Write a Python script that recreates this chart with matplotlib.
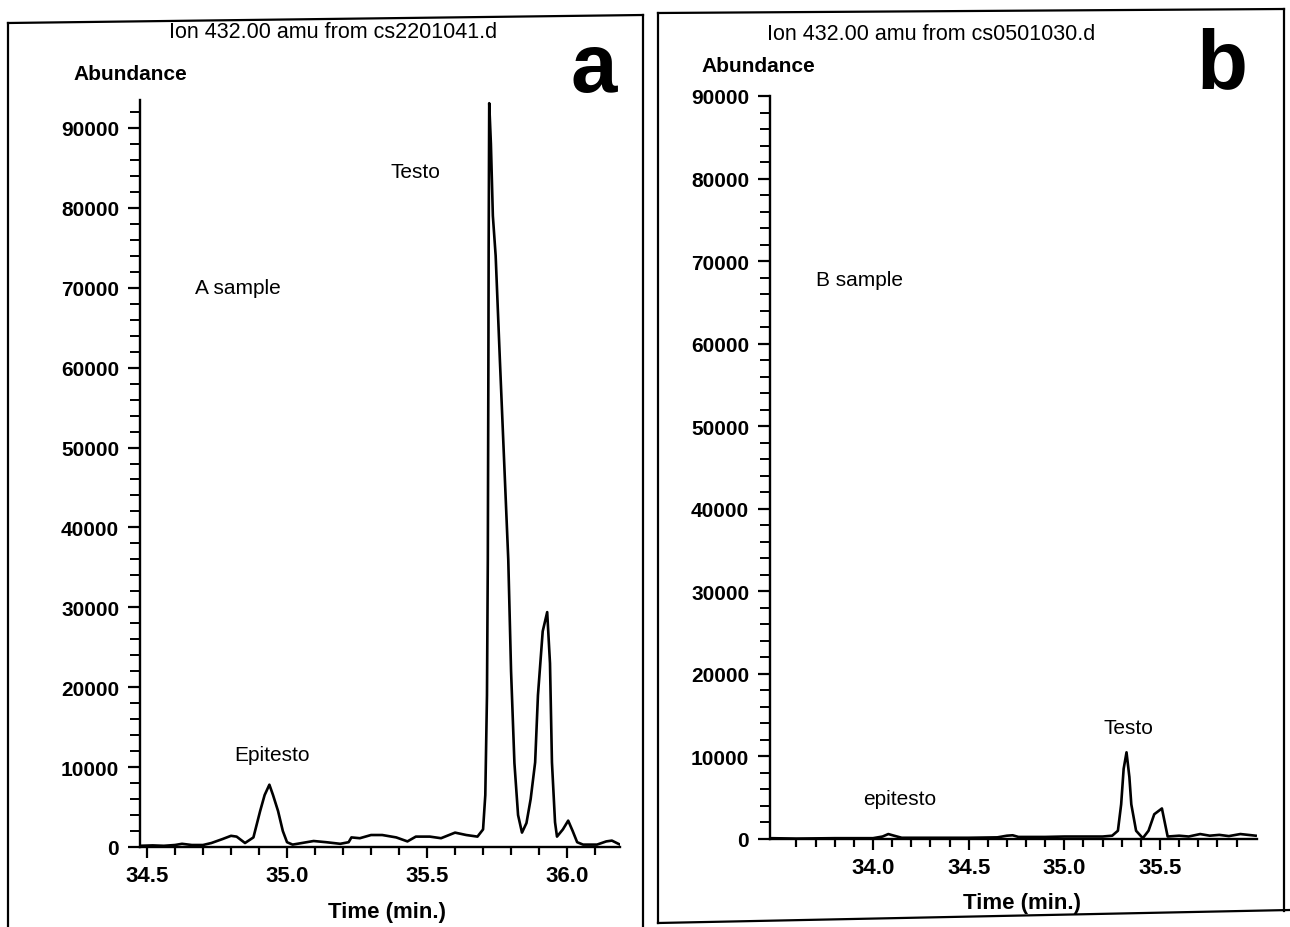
# GC-MS ion chromatograms (ion 432.00 amu), sample A and sample B

import matplotlib
matplotlib.use('Agg')
import matplotlib.pyplot as plt
from matplotlib.lines import Line2D

plt.rcParams['font.family'] = ['Liberation Sans', 'DejaVu Sans']

# panel a: time (min) and abundance
time_a = [34.475, 34.52, 34.56, 34.60, 34.625, 34.66, 34.70, 34.73, 34.77, 34.80,
          34.82, 34.85, 34.88, 34.904, 34.92, 34.937, 34.95, 34.968, 34.985, 35.00,
          35.02, 35.07, 35.095, 35.14, 35.19, 35.22, 35.23, 35.26, 35.30, 35.34,
          35.39, 35.43, 35.46, 35.51, 35.55, 35.60, 35.64, 35.68, 35.70, 35.708,
          35.714, 35.717, 35.719, 35.720, 35.722, 35.728, 35.735, 35.745, 35.760, 35.790,
          35.800, 35.812, 35.825, 35.839, 35.855, 35.870, 35.886, 35.896, 35.913, 35.929,
          35.939, 35.946, 35.957, 35.964, 35.985, 36.004, 36.02, 36.036, 36.057, 36.107,
          36.14, 36.16, 36.189]
abund_a = [150, 200, 150, 250, 400, 250, 250, 500, 1000, 1400,
           1300, 500, 1200, 4500, 6500, 7800, 6500, 4500, 2000, 600,
           300, 600, 750, 600, 400, 600, 1200, 1100, 1500, 1500,
           1200, 700, 1300, 1300, 1100, 1800, 1500, 1300, 2200, 6500,
           19000, 36000, 60000, 75000, 93100, 88000, 79000, 74000, 61000, 36000,
           22000, 10500, 4000, 1800, 3000, 6000, 10600, 19000, 27000, 29400,
           23000, 10600, 3100, 1300, 2200, 3300, 2000, 600, 300, 300,
           700, 800, 300]

# panel b
time_b = [33.46, 33.6, 33.8, 34.0, 34.05, 34.08, 34.11, 34.15, 34.3, 34.5,
          34.65, 34.70, 34.73, 34.76, 34.9, 35.0, 35.1, 35.2, 35.25, 35.28,
          35.297, 35.31, 35.325, 35.34, 35.35, 35.375, 35.41, 35.44, 35.47, 35.51,
          35.525, 35.54, 35.6, 35.65, 35.71, 35.76, 35.81, 35.86, 35.92, 35.96,
          36.0]
abund_b = [100, 50, 100, 100, 300, 600, 400, 150, 150, 150,
           200, 400, 450, 250, 250, 300, 300, 300, 400, 1000,
           4200, 8500, 10500, 7500, 4200, 1000, 100, 1000, 3000, 3700,
           2000, 300, 400, 300, 600, 400, 500, 350, 600, 500,
           400]

yticks_a = list(range(0, 90001, 10000))
yticks_b = list(range(0, 90001, 10000))
xticks_a = [34.5, 35.0, 35.5, 36.0]
xticks_b = [34.0, 34.5, 35.0, 35.5]
xminor_a = [round(34.5 + 0.1 * i, 1) for i in range(17)]
xminor_b = [round(33.6 + 0.1 * i, 1) for i in range(24)]

W, H = 1290, 928
fig = plt.figure(figsize=(W / 100, H / 100), dpi=100)


def px_box(left, right, y0, ytop):
    # pixel box -> figure fraction rect
    return [left / W, (H - y0) / H, (right - left) / W, (y0 - ytop) / H]


def style_axis(ax):
    for s in ['top', 'right']:
        ax.spines[s].set_visible(False)
    for s in ['left', 'bottom']:
        ax.spines[s].set_linewidth(1.7)
    ax.tick_params(axis='x', which='major', direction='out', length=8, width=1.6,
                   pad=5, labelsize=16)
    ax.tick_params(axis='x', which='minor', direction='out', length=6, width=1.6)
    ax.tick_params(axis='y', which='major', direction='out', length=9, width=1.6,
                   pad=6, labelsize=15)
    ax.tick_params(axis='y', which='minor', direction='out', length=7, width=1.4)
    for lab in ax.get_xticklabels() + ax.get_yticklabels():
        lab.set_fontweight('bold')


# ---- panel a ----
ax_a = fig.add_axes(px_box(140, 620, 848, 101))
ax_a.plot(time_a, abund_a, color='black', lw=1.9)
ax_a.set_xlim(34.475, 36.189)
ax_a.set_ylim(0, 93500)
ax_a.set_xticks(xticks_a)
ax_a.set_xticklabels(['%.1f' % t for t in xticks_a])
ax_a.set_xticks(xminor_a, minor=True)
ax_a.set_yticks(yticks_a)
ax_a.set_yticklabels([str(v) for v in yticks_a])
ax_a.set_yticks(list(range(0, 92001, 2000)), minor=True)
style_axis(ax_a)
ax_a.set_xlabel('Time (min.)', fontsize=16, fontweight='bold')
ax_a.xaxis.set_label_coords(0.515, -0.072)
ax_a.text(35.457, 84500, 'Testo', fontsize=15, ha='center', va='center')
ax_a.text(34.825, 70000, 'A sample', fontsize=15, ha='center', va='center')
ax_a.text(34.946, 11600, 'Epitesto', fontsize=15, ha='center', va='center')

# ---- panel b ----
ax_b = fig.add_axes(px_box(770, 1257, 840, 97))
ax_b.plot(time_b, abund_b, color='black', lw=1.9)
ax_b.set_xlim(33.4616, 36.007)
ax_b.set_ylim(0, 90000)
ax_b.set_xticks(xticks_b)
ax_b.set_xticklabels(['%.1f' % t for t in xticks_b])
ax_b.set_xticks(xminor_b, minor=True)
ax_b.set_yticks(yticks_b)
ax_b.set_yticklabels([str(v) for v in yticks_b])
ax_b.set_yticks(list(range(0, 90001, 2000)), minor=True)
style_axis(ax_b)
ax_b.set_xlabel('Time (min.)', fontsize=16, fontweight='bold')
ax_b.xaxis.set_label_coords(0.517, -0.071)
ax_b.text(33.93, 67800, 'B sample', fontsize=15, ha='center', va='center')
ax_b.text(35.333, 13560, 'Testo', fontsize=15, ha='center', va='center')
ax_b.text(34.141, 4960, 'epitesto', fontsize=15, ha='center', va='center')


# ---- headers outside the axes ----
def ftext(x, y, s, **kw):
    fig.text(x / W, 1 - y / H, s, ha='center', va='center', **kw)


ftext(333, 33, 'Ion 432.00 amu from cs2201041.d', fontsize=15.5)
ftext(931, 35, 'Ion 432.00 amu from cs0501030.d', fontsize=15.5)
ftext(130, 75, 'Abundance', fontsize=15, fontweight='bold')
ftext(758, 67, 'Abundance', fontsize=15, fontweight='bold')
ftext(594, 70, 'a', fontsize=60, fontweight='bold')
ftext(1222, 66, 'b', fontsize=60, fontweight='bold')


# panel frames (slightly skewed, like the scan)
def fline(xs, ys):
    fig.add_artist(Line2D([x / W for x in xs], [1 - y / H for y in ys],
                          color='black', lw=1.6))


fline([8, 8], [24, 928])
fline([8, 643], [24, 16])
fline([643, 643], [16, 928])
fline([658, 658], [14, 924])
fline([658, 1284], [14, 10])
fline([1284, 1284], [10, 912])
fline([658, 1290], [924, 911])

fig.savefig('out.png', dpi=100)
